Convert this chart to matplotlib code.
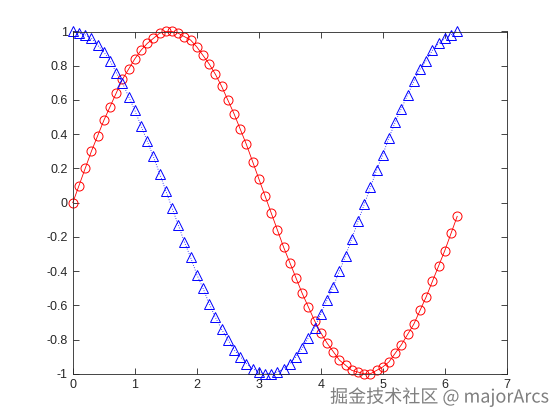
import matplotlib
matplotlib.use('Agg')
import matplotlib.pyplot as plt
import matplotlib.patheffects as pe

plt.rcParams['axes.unicode_minus'] = False

# x = 0:0.1:6.2
x_vals = [0.0, 0.1, 0.2, 0.3, 0.4, 0.5, 0.6, 0.7, 0.8, 0.9,
          1.0, 1.1, 1.2, 1.3, 1.4, 1.5, 1.6, 1.7, 1.8, 1.9,
          2.0, 2.1, 2.2, 2.3, 2.4, 2.5, 2.6, 2.7, 2.8, 2.9,
          3.0, 3.1, 3.2, 3.3, 3.4, 3.5, 3.6, 3.7, 3.8, 3.9,
          4.0, 4.1, 4.2, 4.3, 4.4, 4.5, 4.6, 4.7, 4.8, 4.9,
          5.0, 5.1, 5.2, 5.3, 5.4, 5.5, 5.6, 5.7, 5.8, 5.9,
          6.0, 6.1, 6.2]
# red circles
sin_vals = [0.0, 0.10, 0.20, 0.30, 0.39, 0.48, 0.56, 0.64, 0.72, 0.78,
            0.84, 0.89, 0.93, 0.96, 0.99, 1.00, 1.00, 0.99, 0.97, 0.95,
            0.91, 0.86, 0.81, 0.75, 0.68, 0.60, 0.52, 0.43, 0.34, 0.24,
            0.14, 0.04, -0.06, -0.16, -0.26, -0.35, -0.44, -0.53, -0.61, -0.69,
            -0.76, -0.82, -0.87, -0.92, -0.95, -0.98, -0.99, -1.00, -1.00, -0.98,
            -0.96, -0.93, -0.88, -0.83, -0.77, -0.71, -0.63, -0.55, -0.46, -0.37,
            -0.28, -0.18, -0.08]
# blue triangles
cos_vals = [1.00, 0.99, 0.98, 0.96, 0.92, 0.88, 0.83, 0.76, 0.70, 0.62,
            0.54, 0.45, 0.36, 0.27, 0.17, 0.07, -0.03, -0.13, -0.23, -0.32,
            -0.42, -0.50, -0.59, -0.67, -0.74, -0.80, -0.86, -0.90, -0.94, -0.97,
            -0.99, -1.00, -1.00, -0.99, -0.97, -0.94, -0.90, -0.85, -0.79, -0.73,
            -0.65, -0.57, -0.49, -0.40, -0.31, -0.21, -0.11, -0.01, 0.09, 0.19,
            0.28, 0.38, 0.47, 0.55, 0.63, 0.71, 0.78, 0.83, 0.89, 0.93,
            0.96, 0.98, 1.00]

x_ticks = [0, 1, 2, 3, 4, 5, 6, 7]
y_ticks = [-1, -0.8, -0.6, -0.4, -0.2, 0, 0.2, 0.4, 0.6, 0.8, 1]
y_labels = ['-1', '-0.8', '-0.6', '-0.4', '-0.2', '0', '0.2', '0.4', '0.6', '0.8', '1']

fig = plt.figure(figsize=(5.6, 4.2), dpi=100)
ax = fig.add_axes([0.13, 0.11, 0.775, 0.815])

ax.plot(x_vals, sin_vals, color='#ff0000', linestyle='-', linewidth=0.6,
        marker='o', markersize=6.5, markerfacecolor='none', markeredgewidth=0.7,
        clip_on=False)
ax.plot(x_vals, cos_vals, color='#0000ff', linestyle=(0, (1, 2)), linewidth=0.6,
        marker='^', markersize=6.5, markerfacecolor='none', markeredgewidth=0.7,
        clip_on=False)

ax.set_xlim(0, 7)
ax.set_ylim(-1, 1)
ax.set_xticks(x_ticks)
ax.set_xticklabels([str(t) for t in x_ticks])
ax.set_yticks(y_ticks)
ax.set_yticklabels(y_labels)
ax.tick_params(direction='in', top=True, right=True, length=4, width=0.6,
               labelsize=9, colors='#262626')
for lab in ax.get_xticklabels() + ax.get_yticklabels():
    lab.set_family(['Liberation Sans', 'DejaVu Sans'])
for sp in ax.spines.values():
    sp.set_linewidth(0.6)
    sp.set_color('#262626')

# watermark, bottom right
wm = fig.text(0.98, 0.032, '掘金技术社区 @ majorArcs', ha='right', va='bottom',
              fontsize=13, color='#7f7f7f',
              family=['Noto Sans CJK SC', 'DejaVu Sans'])
wm.set_path_effects([pe.withStroke(linewidth=2, foreground='white')])

fig.savefig('out.png', dpi=100)
